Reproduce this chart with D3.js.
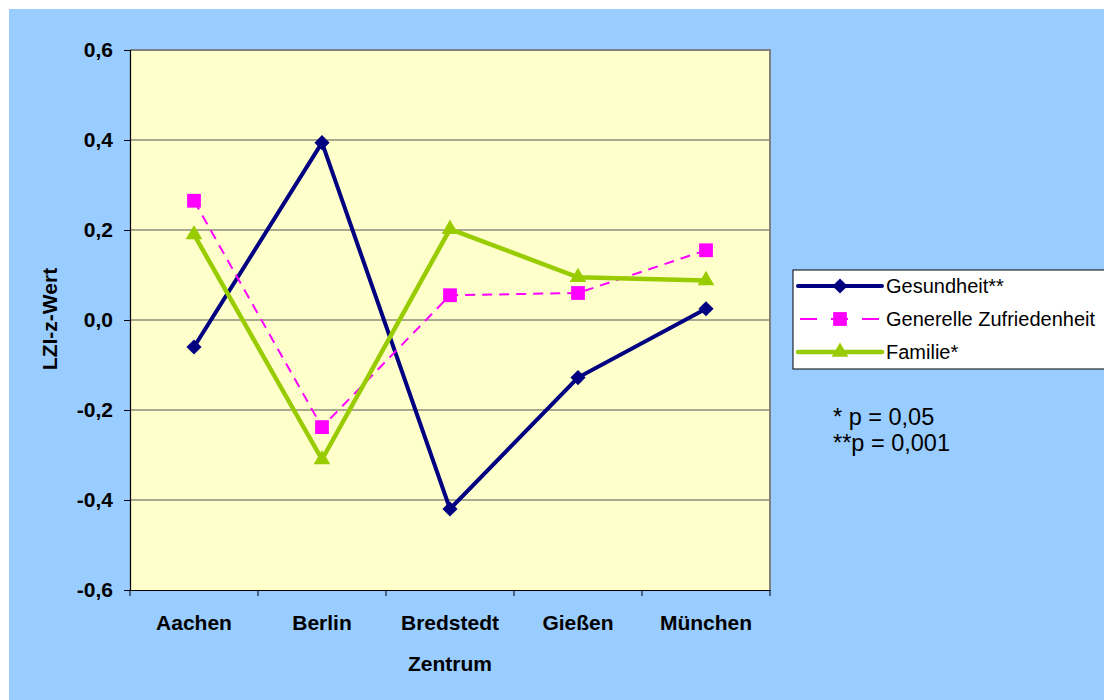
<!DOCTYPE html>
<html><head><meta charset="utf-8">
<script src="https://cdn.jsdelivr.net/npm/d3@7"></script>
<style>html,body{margin:0;padding:0;background:#fff;}svg{display:block;}</style>
</head><body>
<svg id="c" width="1104" height="700"></svg>
<script>
const categories = ["Aachen","Berlin","Bredstedt","Gießen","München"];
const gesundheit = [-0.06, 0.394, -0.42, -0.128, 0.025];
const zufriedenheit = [0.265, -0.238, 0.055, 0.06, 0.155];
const familie = [0.19, -0.31, 0.202, 0.095, 0.088];
const yTicks = [-0.6,-0.4,-0.2,0.0,0.2,0.4,0.6];
const seriesNames = ["Gesundheit**","Generelle Zufriedenheit","Familie*"];
const notes = ["* p = 0,05","**p = 0,001"];

const FONT = "Liberation Sans, Arial, sans-serif";
const svg = d3.select("#c");
svg.append("rect").attr("x",9).attr("y",9).attr("width",1095).attr("height",691).attr("fill","#99CCFF");

const L=130,R=770,T=50,B=590;
const x = d3.scaleBand().domain(categories).range([L,R]);
const y = d3.scaleLinear().domain([-0.6,0.6]).range([B,T]);
const fmt = v => d3.format(".1f")(v).replace(".",",").replace("−","-");

svg.append("rect").attr("x",L).attr("y",T).attr("width",R-L).attr("height",B-T).attr("fill","#FFFFCC");
svg.append("g").selectAll("line").data(yTicks.filter(v=>v>-0.6)).join("line")
  .attr("x1",L).attr("x2",R).attr("y1",d=>y(d)).attr("y2",d=>y(d))
  .attr("stroke","#555").attr("stroke-width",1.2);
svg.append("path").attr("d",`M${L},${T}H${R}V${B}`).attr("fill","none").attr("stroke","#808080").attr("stroke-width",2);

const ya = svg.append("g").attr("transform",`translate(${L},0)`)
  .call(d3.axisLeft(y).tickValues(yTicks).tickFormat(fmt).tickSize(6).tickPadding(11));
ya.select(".domain").attr("stroke","#000").attr("stroke-width",1.2);
ya.selectAll(".tick line").attr("stroke","#000");
ya.selectAll("text").attr("font-family",FONT).attr("font-weight","bold").attr("font-size",21).attr("fill","#000");

const xa = svg.append("g").attr("transform",`translate(0,${B})`)
  .call(d3.axisBottom(x).tickSize(0).tickPadding(25));
xa.select(".domain").attr("stroke","#000").attr("stroke-width",1.2);
xa.selectAll("text").attr("font-family",FONT).attr("font-weight","bold").attr("font-size",21).attr("fill","#000");
svg.append("g").selectAll("line").data(d3.range(categories.length+1)).join("line")
  .attr("x1",i=>L+i*x.bandwidth()).attr("x2",i=>L+i*x.bandwidth())
  .attr("y1",B).attr("y2",B+6).attr("stroke","#000");

svg.append("text").attr("x",450).attr("y",670.5).attr("text-anchor","middle")
  .attr("font-family",FONT).attr("font-weight","bold").attr("font-size",21).text("Zentrum");
svg.append("text").attr("transform","translate(56.5,319) rotate(-90)").attr("text-anchor","middle")
  .attr("font-family",FONT).attr("font-weight","bold").attr("font-size",21).text("LZI-z-Wert");

const cx = c => x(c)+x.bandwidth()/2;
const series = [
  {name:seriesNames[0], vals:gesundheit, color:"#000080", w:4, dash:null, sym:d3.symbolSquare, size:115, rot:45},
  {name:seriesNames[1], vals:zufriedenheit, color:"#FF00FF", w:2, dash:"10,7", sym:d3.symbolSquare, size:190, rot:0},
  {name:seriesNames[2], vals:familie, color:"#99CC00", w:4.5, dash:null, sym:d3.symbolTriangle, size:120, rot:0},
];
const line = d3.line().x(d=>cx(d.c)).y(d=>y(d.v));
series.forEach(s=>{
  const pts = categories.map((c,i)=>({c,v:s.vals[i]}));
  svg.append("path").datum(pts).attr("d",line).attr("fill","none").attr("stroke",s.color)
    .attr("stroke-width",s.w).attr("stroke-dasharray",s.dash).attr("stroke-linejoin","miter");
  svg.append("g").selectAll("path").data(pts).join("path")
    .attr("transform",d=>`translate(${cx(d.c)},${y(d.v)}) rotate(${s.rot})`)
    .attr("d",d3.symbol().type(s.sym).size(s.size)).attr("fill",s.color);
});

const lg = svg.append("g");
lg.append("rect").attr("x",793).attr("y",270).attr("width",312).attr("height",99).attr("fill","#fff").attr("stroke","#000").attr("stroke-width",1);
series.forEach((s,i)=>{
  const yy = 286 + i*33;
  lg.append("line").attr("x1",798).attr("x2",882).attr("y1",yy).attr("y2",yy)
    .attr("stroke",s.color).attr("stroke-width",s.w).attr("stroke-linecap",s.dash?"butt":"round")
    .attr("stroke-dasharray",s.dash?"17,14":null).attr("stroke-dashoffset",s.dash?-2:0);
  lg.append("path").attr("transform",`translate(840,${yy}) rotate(${s.rot})`).attr("d",d3.symbol().type(s.sym).size(s.size)).attr("fill",s.color);
  lg.append("text").attr("x",886).attr("y",yy).attr("dy","0.35em")
    .attr("font-family",FONT).attr("font-size",20).text(s.name);
});
notes.forEach((n,i)=>{
  svg.append("text").attr("x",833).attr("y",425+i*26)
    .attr("font-family",FONT).attr("font-size",23.5).text(n);
});
</script>
</body></html>
